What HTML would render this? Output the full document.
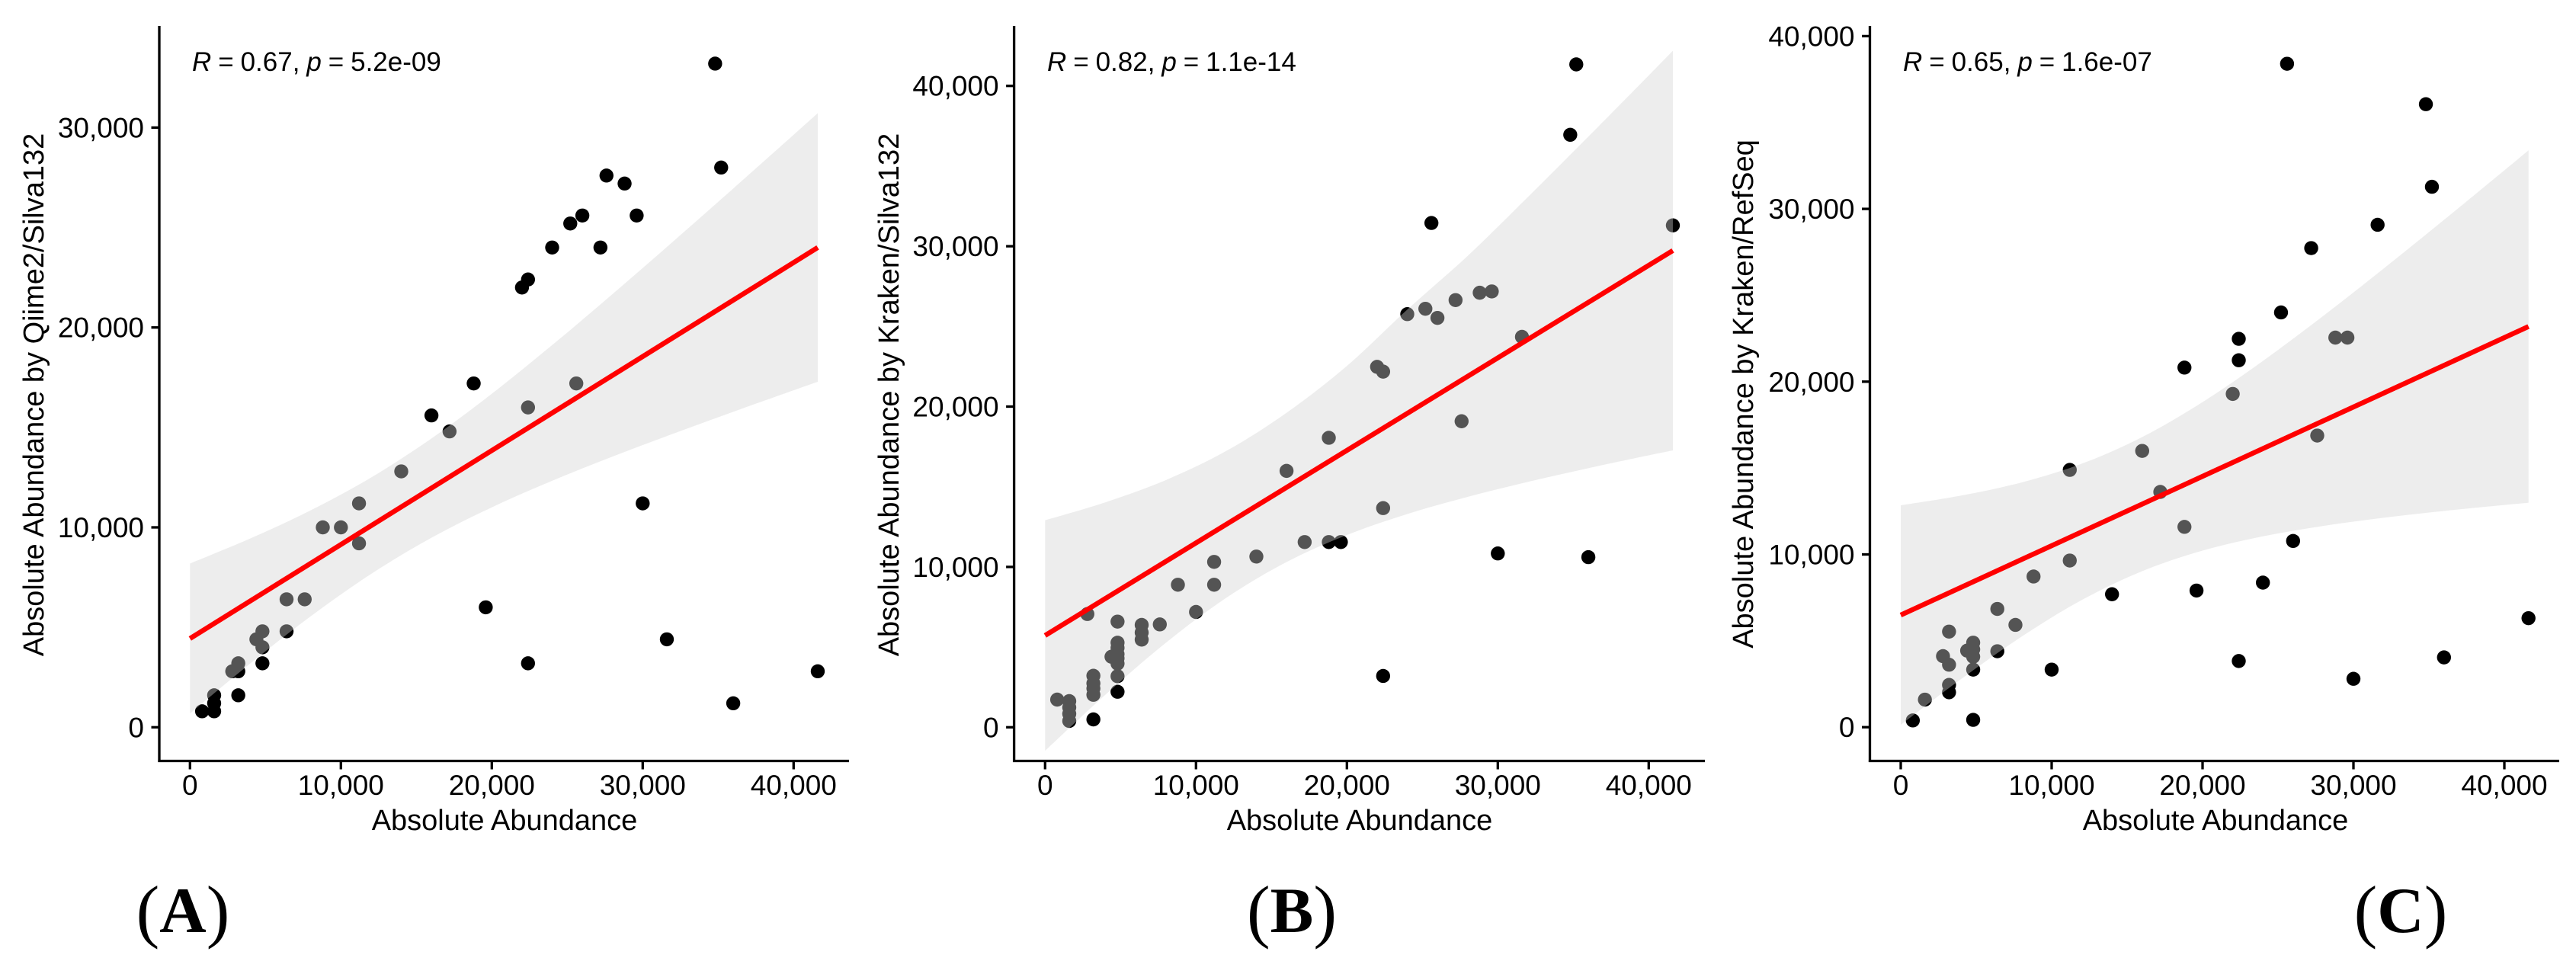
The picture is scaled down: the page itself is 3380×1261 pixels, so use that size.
<!DOCTYPE html>
<html lang="en">
<head>
<meta charset="utf-8">
<title>Absolute abundance correlation panels</title>
<style>
html,body{margin:0;padding:0;background:#fff;}
svg{display:block;}
text{font-family:"Liberation Sans",sans-serif;fill:#000;}
.axis-title{font-size:38px;}
.tick-label{font-size:37px;}
.annotation{font-size:35px;word-spacing:-0.8px;}
.panel-label{font-family:"Liberation Serif",serif;font-size:85px;font-weight:bold;text-anchor:middle;}
.panel-label .paren{font-size:92px;font-weight:normal;}
</style>
</head>
<body>
<svg id="figure" xmlns="http://www.w3.org/2000/svg" width="3380" height="1261" viewBox="0 0 3380 1261">
  <g id="panel-a"></g>
  <g id="panel-b"></g>
  <g id="panel-c"></g>

  <text class="axis-title" transform="translate(57,518) rotate(-90)" text-anchor="middle">Absolute Abundance by Qiime2/Silva132</text>
  <text class="axis-title" x="662" y="1089" text-anchor="middle">Absolute Abundance</text>
  <text class="annotation" x="252" y="93"><tspan font-style="italic">R</tspan> = 0.67, <tspan font-style="italic">p</tspan> = 5.2e-09</text>
  <text class="panel-label" x="240" y="1223"><tspan class="paren" dy="3">(</tspan><tspan dy="-3">A</tspan><tspan class="paren" dy="3">)</tspan></text>

  <text class="axis-title" transform="translate(1179,518) rotate(-90)" text-anchor="middle">Absolute Abundance by Kraken/Silva132</text>
  <text class="axis-title" x="1784" y="1089" text-anchor="middle">Absolute Abundance</text>
  <text class="annotation" x="1374" y="93"><tspan font-style="italic">R</tspan> = 0.82, <tspan font-style="italic">p</tspan> = 1.1e-14</text>
  <text class="panel-label" x="1695" y="1223"><tspan class="paren" dy="3">(</tspan><tspan dy="-3">B</tspan><tspan class="paren" dy="3">)</tspan></text>

  <text class="axis-title" transform="translate(2300,517) rotate(-90)" text-anchor="middle">Absolute Abundance by Kraken/RefSeq</text>
  <text class="axis-title" x="2907" y="1089" text-anchor="middle">Absolute Abundance</text>
  <text class="annotation" x="2497" y="93"><tspan font-style="italic">R</tspan> = 0.65, <tspan font-style="italic">p</tspan> = 1.6e-07</text>
  <text class="panel-label" x="3150" y="1223"><tspan class="paren" dy="3">(</tspan><tspan dy="-3">C</tspan><tspan class="paren" dy="3">)</tspan></text>
</svg>
<script>
// ---- chart data ----
const xTickValues = [0, 10000, 20000, 30000, 40000];
const xTickLabels = ['0', '10,000', '20,000', '30,000', '40,000'];

const yTickValuesA = [0, 10000, 20000, 30000];
const yTickLabelsA = ['0', '10,000', '20,000', '30,000'];
const yTickValuesB = [0, 10000, 20000, 30000, 40000];
const yTickLabelsB = ['0', '10,000', '20,000', '30,000', '40,000'];
const yTickValuesC = [0, 10000, 20000, 30000, 40000];
const yTickLabelsC = ['0', '10,000', '20,000', '30,000', '40,000'];

const pointsXA = [800,1600,1600,1600,3200,3200,2800,3200,4800,4400,4800,4800,6400,6400,7600,8800,10000,11200,11200,14000,16000,17200,18800,19600,22000,22400,22400,22400,24000,25200,25600,26000,27200,27600,28800,29600,30000,31600,34800,35200,36000,41600];
const pointsYA = [800,800,1200,1600,1600,2800,2800,3200,3200,4400,4000,4800,4800,6400,6400,10000,10000,9200,11200,12800,15600,14800,17200,6000,22000,22400,16000,3200,24000,25200,17200,25600,24000,27600,27200,25600,11200,4400,33200,28000,1200,2800];

const pointsXB = [800,1600,1600,1600,1600,3200,3200,3200,3200,3200,2800,4800,4800,4800,4800,4400,4800,4800,4800,4800,6400,6400,6400,7600,8800,11200,11200,10000,14000,17200,18800,19600,22400,22400,16000,18800,22000,22400,24000,25200,25600,26000,27200,27600,28800,29600,30000,31600,34800,35200,36000,41600];
const pointsYB = [1725,1630,1235,838,395,3213,2738,2420,2025,490,7063,6590,5275,4957,4563,4400,4300,3973,3184,2215,6383,5908,5466,6415,8888,10314,8888,7191,10646,11550,11550,11550,3200,13669,15990,18054,22480,22180,25765,26100,31450,25530,26640,19085,27100,27180,10840,24350,36950,41340,10610,31300];

const pointsXC = [800,1600,3200,2800,3200,3200,3200,4400,4800,4800,4800,4800,4800,6400,6400,7600,8800,10000,11200,11200,14000,16000,17200,18800,18800,19600,22000,22400,22400,22400,24000,25200,25600,26000,27200,27600,28800,29600,30000,31600,34800,35200,36000,41600];
const pointsYC = [390,1596,5532,4113,3617,2447,2021,4432,4893,4503,4078,3333,425,6844,4397,5922,8723,3333,14893,9645,7695,15992,13617,20815,11595,7908,19290,22480,21240,3830,8368,24006,38400,10780,27730,16880,22550,22550,2800,29080,36060,31280,4040,6310];

const fitX = [0, 41600];
const fitYA = [4440, 24000];
const fitYB = [5725, 29730];
const fitYC = [6490, 23190];

const bandX = [0, 4000, 8000, 12000, 16000, 20000, 24000, 28000, 32000, 36000, 40000, 41600];

const upperYA = [8192, 9448, 10852, 12494, 14447, 16685, 19119, 21671, 24291, 26952, 29640, 30720];
const lowerYA = [688, 3194, 5552, 7670, 9479, 11003, 12331, 13541, 14681, 15782, 16856, 17280];

const upperYB = [12913, 14032, 15416, 17229, 19612, 22538, 26050, 29394, 33074, 36837, 40651, 42188];
const lowerYB = [-1463, 2034, 5266, 8069, 10302, 11992, 13296, 14368, 15304, 16157, 16959, 17268];

const upperYC = [12842, 13406, 14165, 15252, 16794, 18817, 21200, 23807, 26546, 29364, 32231, 33388];
const lowerYC = [138, 2786, 5237, 7362, 9030, 10219, 11048, 11651, 12124, 12516, 12861, 12988];

// ---- drawing ----
const SVG_NS = 'http://www.w3.org/2000/svg';

function makeNode(parent, tag, attrs) {
  const node = document.createElementNS(SVG_NS, tag);
  Object.keys(attrs).forEach(function (key) { node.setAttribute(key, attrs[key]); });
  parent.appendChild(node);
  return node;
}

// Catmull-Rom smoothing through the read band values
function smoothSegments(pts) {
  let d = '';
  for (let i = 0; i < pts.length - 1; i++) {
    const p0 = pts[Math.max(i - 1, 0)];
    const p1 = pts[i];
    const p2 = pts[i + 1];
    const p3 = pts[Math.min(i + 2, pts.length - 1)];
    const c1x = p1[0] + (p2[0] - p0[0]) / 6;
    const c1y = p1[1] + (p2[1] - p0[1]) / 6;
    const c2x = p2[0] - (p3[0] - p1[0]) / 6;
    const c2y = p2[1] - (p3[1] - p1[1]) / 6;
    d += ' C' + c1x + ' ' + c1y + ' ' + c2x + ' ' + c2y + ' ' + p2[0] + ' ' + p2[1];
  }
  return d;
}

function drawPanel(config) {
  const root = document.getElementById(config.id);
  const prefix = config.prefix;
  const xScale = function (v) { return config.originX + v * config.pxPerX; };
  const yScale = function (v) { return config.originY - v * config.pxPerY; };

  // points go first: the translucent band above turns covered points grey
  const pointGroup = makeNode(root, 'g', {});
  
  
  config.pointsX.forEach(function (xValue, i) {
    const dot = makeNode(pointGroup, 'circle', {
      cx: xScale(xValue), cy: yScale(config.pointsY[i]), r: 9.2, fill: '#000'
    });
    
    
  });

  const upperPts = bandX.map(function (xValue, i) { return [xScale(xValue), yScale(config.upper[i])]; });
  const lowerPts = bandX.map(function (xValue, i) { return [xScale(xValue), yScale(config.lower[i])]; }).reverse();
  const bandPath = 'M' + upperPts[0][0] + ' ' + upperPts[0][1] + smoothSegments(upperPts) +
    ' L' + lowerPts[0][0] + ' ' + lowerPts[0][1] + smoothSegments(lowerPts) + ' Z';
  const band = makeNode(root, 'path', { d: bandPath, fill: '#d3d3d3', 'fill-opacity': 0.4 });
  
  

  const fitPts = fitX.map(function (xValue, i) { return xScale(xValue) + ',' + yScale(config.fit[i]); });
  const fitLine = makeNode(root, 'polyline', {
    points: fitPts.join(' '), fill: 'none', stroke: '#ff0000', 'stroke-width': 6.5
  });
  
  

  const yAxis = makeNode(root, 'line', {
    x1: config.originX - config.axisOffset, y1: 34, x2: config.originX - config.axisOffset, y2: 1000,
    stroke: '#000', 'stroke-width': 3.3
  });
  
  

  const xAxis = makeNode(root, 'line', {
    x1: config.originX - config.axisOffset - 1.6, y1: 998.5, x2: config.axisEndX, y2: 998.5,
    stroke: '#000', 'stroke-width': 3.3
  });
  
  

  xTickValues.forEach(function (value, i) {
    const px = xScale(value);
    const tick = makeNode(root, 'line', {
      x1: px, y1: 998.5, x2: px, y2: 1009.5, stroke: '#000', 'stroke-width': 3.3
    });
    
    
    const label = makeNode(root, 'text', {
      x: px, y: 1043, 'text-anchor': 'middle', 'class': 'tick-label'
    });
    
    
    label.textContent = xTickLabels[i];
  });

  config.yTicks.forEach(function (value, i) {
    const py = yScale(value);
    const axisX = config.originX - config.axisOffset;
    const tick = makeNode(root, 'line', {
      x1: axisX - 10.5, y1: py, x2: axisX, y2: py, stroke: '#000', 'stroke-width': 3.3
    });
    
    
    const label = makeNode(root, 'text', {
      x: axisX - 20, y: py + 13, 'text-anchor': 'end', 'class': 'tick-label'
    });
    
    
    label.textContent = config.yLabels[i];
  });
}

drawPanel({
  id: 'panel-a', prefix: 'panel-a', originX: 249.3, originY: 954.3, pxPerX: 0.0198, pxPerY: 0.02623,
  axisOffset: 40.3, axisEndX: 1114, pointsX: pointsXA, pointsY: pointsYA,
  fit: fitYA, upper: upperYA, lower: lowerYA, yTicks: yTickValuesA, yLabels: yTickLabelsA
});
drawPanel({
  id: 'panel-b', prefix: 'panel-b', originX: 1371.3, originY: 954.3, pxPerX: 0.0198, pxPerY: 0.02104,
  axisOffset: 40.7, axisEndX: 2237, pointsX: pointsXB, pointsY: pointsYB,
  fit: fitYB, upper: upperYB, lower: lowerYB, yTicks: yTickValuesB, yLabels: yTickLabelsB
});
drawPanel({
  id: 'panel-c', prefix: 'panel-c', originX: 2494, originY: 954.2, pxPerX: 0.0198, pxPerY: 0.02267,
  axisOffset: 40.5, axisEndX: 3358, pointsX: pointsXC, pointsY: pointsYC,
  fit: fitYC, upper: upperYC, lower: lowerYC, yTicks: yTickValuesC, yLabels: yTickLabelsC
});
</script>
</body>
</html>
